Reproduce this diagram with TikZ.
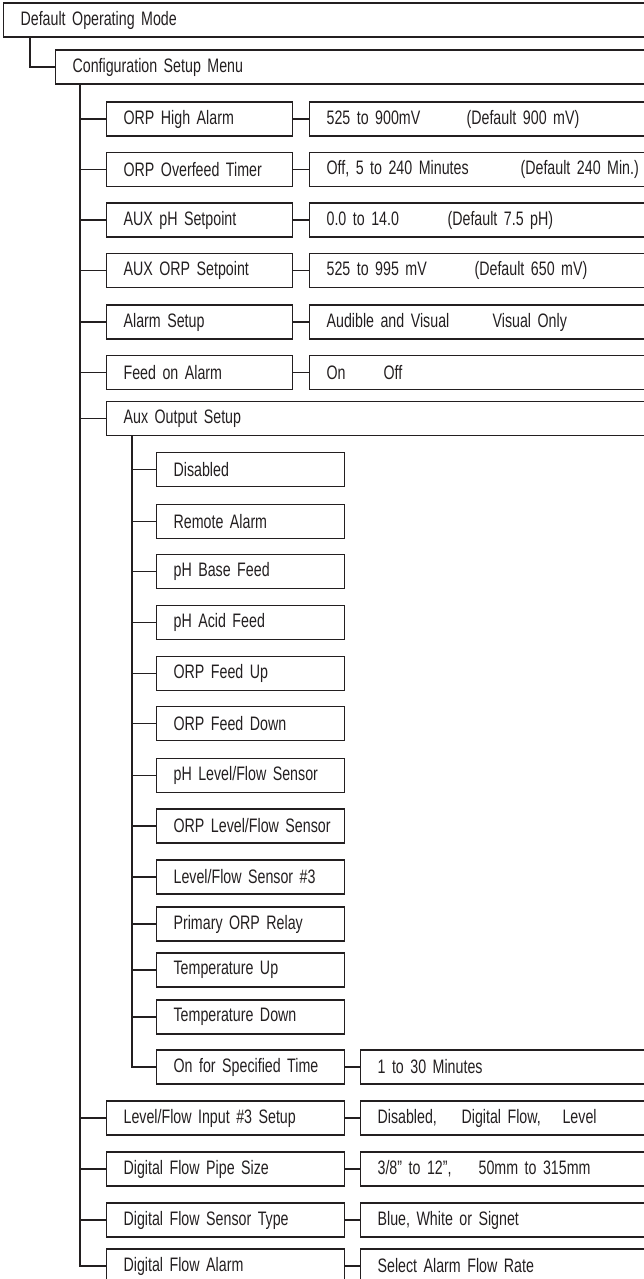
\documentclass[tikz,border=0pt]{standalone}
\usepackage{fontspec}
\setmainfont{Liberation Sans}[FakeStretch=0.73]
\definecolor{ink}{HTML}{231F20}
\newcommand\boxfont{\fontsize{19.5}{21}\selectfont\spaceskip 3.6pt plus 1pt minus 0.5pt\relax}
\begin{document}
\begin{tikzpicture}[x=1pt,y=-1pt,
  every node/.style={font=\boxfont, text=ink},
  conn/.style={draw=ink, line width=1.2pt},
  box/.style={draw=ink, line width=1.2pt, anchor=west, minimum height=34pt, inner xsep=17pt, inner ysep=0pt, align=left,
    execute at begin node={\hbox\bgroup}, execute at end node={\egroup}},
  itembox/.style={box, minimum width=186pt, text width=152pt},
  longitem/.style={box, minimum width=238pt, text width=204pt},
  subbox/.style={box, minimum width=188pt, text width=154pt},
  valbox/.style={box, minimum width=351pt, text width=317pt},
  lvalbox/.style={box, minimum width=300pt, text width=266pt}]
\useasboundingbox (0,0) rectangle (644,1279);
\clip (0,0) rectangle (644,1279);
\coordinate (x0) at (30,0);
\coordinate (x1) at (80,0);
\coordinate (x2) at (132,0);
% top levels
\node[box, minimum width=657pt, text width=623pt] (dom) at (3,20) {Default Operating Mode};
\node[box, minimum width=605pt, text width=571pt] (csm) at (55,67) {Configuration Setup Menu};
% main items
\node[itembox] (i1) at (106,119) {ORP High Alarm};
\node[itembox] (i2) at (106,169.5) {ORP Overfeed Timer};
\node[itembox] (i3) at (106,220) {AUX pH Setpoint};
\node[itembox] (i4) at (106,270.5) {AUX ORP Setpoint};
\node[itembox] (i5) at (106,322) {Alarm Setup};
\node[itembox] (i6) at (106,372.5) {Feed on Alarm};
\node[box, minimum width=554pt, text width=520pt] (aux) at (106,418.5) {Aux Output Setup};
\node[longitem] (i8) at (106,1118) {Level/Flow Input \#3 Setup};
\node[longitem] (i9) at (106,1169) {Digital Flow Pipe Size};
\node[longitem] (i10) at (106,1220) {Digital Flow Sensor Type};
\node[longitem] (dfa) at (106,1266) {Digital Flow Alarm};
% values
\node[valbox] (v1) at (309,119) {\makebox[140pt][l]{525 to 900mV}(Default 900 mV)};
\node[valbox] (v2) at (309,169.5) {\makebox[194pt][l]{Off, 5 to 240 Minutes}(Default 240 Min.)};
\node[valbox] (v3) at (309,220) {\makebox[121pt][l]{0.0 to 14.0}(Default 7.5 pH)};
\node[valbox] (v4) at (309,270.5) {\makebox[148pt][l]{525 to 995 mV}(Default 650 mV)};
\node[valbox] (v5) at (309,322) {\makebox[166pt][l]{Audible and Visual}Visual Only};
\node[valbox] (v6) at (309,372.5) {\makebox[57pt][l]{On}Off};
\node[lvalbox] (v8) at (360,1118) {\makebox[84pt][l]{Disabled,}\makebox[101pt][l]{Digital Flow,}Level};
\node[lvalbox] (v9) at (360,1169) {\makebox[101pt][l]{3/8" to 12”,}50mm to 315mm};
\node[lvalbox] (v10) at (360,1220) {Blue, White or Signet};
\node[lvalbox] (v11) at (360,1266) {Select Alarm Flow Rate};
% sub items
\node[subbox] (s1) at (156,469.5) {Disabled};
\node[subbox] (s2) at (156,521.5) {Remote Alarm};
\node[subbox] (s3) at (156,571.5) {pH Base Feed};
\node[subbox] (s4) at (156,622.5) {pH Acid Feed};
\node[subbox] (s5) at (156,673.5) {ORP Feed Up};
\node[subbox] (s6) at (156,723.5) {ORP Feed Down};
\node[subbox] (s7) at (156,775.5) {pH Level/Flow Sensor};
\node[subbox] (s8) at (156,826) {ORP Level/Flow Sensor};
\node[subbox] (s9) at (156,877) {Level/Flow Sensor \#3};
\node[subbox] (s10) at (156,924) {Primary ORP Relay};
\node[subbox] (s11) at (156,970) {Temperature Up};
\node[subbox] (s12) at (156,1017) {Temperature Down};
\node[subbox] (ost) at (156,1067) {On for Specified Time};
\node[lvalbox] (vost) at (360,1067) {1 to 30 Minutes};
% connectors
\draw[conn] (dom.south -| x0) |- (csm.west);
\draw[conn] (csm.south -| x1) |- (dfa.west);
\foreach \n in {i1,i2,i3,i4,i5,i6,aux,i8,i9,i10}
  \draw[conn] (\n.west -| x1) -- (\n.west);
\draw[conn] (aux.south -| x2) |- (ost.west);
\foreach \n in {s1,s2,s3,s4,s5,s6,s7,s8,s9,s10,s11,s12}
  \draw[conn] (\n.west -| x2) -- (\n.west);
\foreach \a/\b in {i1/v1,i2/v2,i3/v3,i4/v4,i5/v5,i6/v6,ost/vost,i8/v8,i9/v9,i10/v10,dfa/v11}
  \draw[conn] (\a.east) -- (\b.west);
\end{tikzpicture}
\end{document}
